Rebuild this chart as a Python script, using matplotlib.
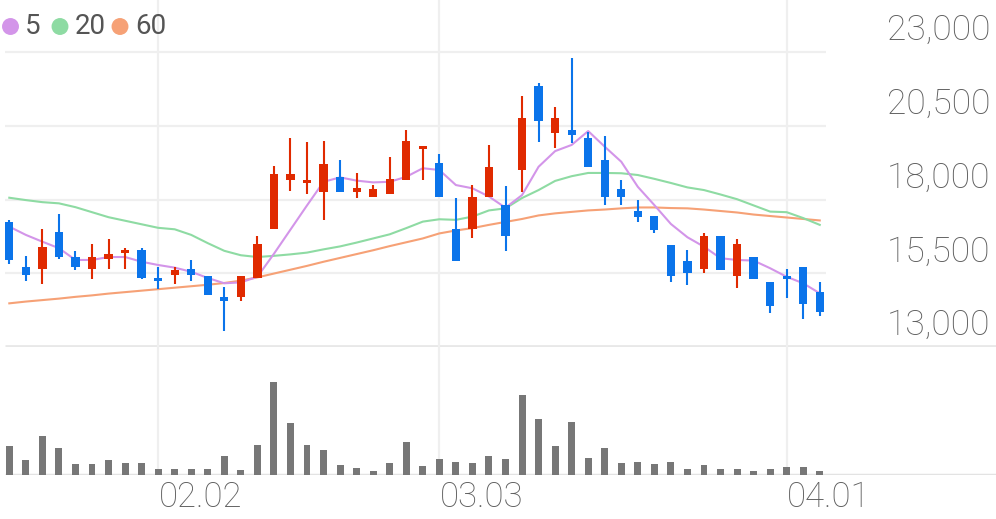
import matplotlib
matplotlib.use("Agg")
import matplotlib.pyplot as plt
from matplotlib.patches import Ellipse
import numpy as np

plt.rcParams['font.family'] = ['Roboto', 'DejaVu Sans']

# daily candles (KRW), index 0..49
opens = [17250, 15700, 15650, 16900, 16050, 15650, 16000, 16200, 16300, 15350,
         15450, 15650, 15400, 14700, 14700, 15350, 17000, 18650, 18550, 18250,
         18750, 18250, 18100, 18200, 18650, 19700, 19250, 17000, 17000, 18100,
         17800, 19000, 21850, 20250, 20350, 20100, 19350, 18350, 17600, 17450,
         16450, 15900, 15650, 16750, 15400, 16050, 15200, 15400, 15700, 14850]
closes = [15950, 15450, 16400, 16050, 15700, 16050, 16150, 16300, 15350, 15250,
          15600, 15450, 14750, 14550, 15400, 16500, 18850, 18850, 18650, 19200,
          18250, 18400, 18350, 18700, 20000, 19750, 18100, 15900, 18100, 19100,
          16750, 20750, 20650, 20750, 20200, 19100, 18100, 18100, 17400, 16950,
          15400, 15500, 16750, 15600, 16500, 15300, 14400, 15300, 14450, 14200]
highs = [17300, 16100, 17000, 17500, 16250, 16500, 16650, 16350, 16350, 15700,
         15700, 15950, 15400, 15050, 15400, 16750, 19150, 20100, 19950, 20000,
         19350, 18900, 18500, 19450, 20350, 19800, 19550, 18050, 18500, 19850,
         18450, 21500, 21950, 21150, 22800, 20300, 20150, 18650, 18000, 17450,
         16450, 16300, 16850, 16750, 16650, 16050, 15200, 15650, 15700, 15200]
lows = [15800, 15250, 15150, 16000, 15600, 15300, 15650, 15650, 15300, 14950,
        15150, 15250, 14750, 13550, 14550, 15350, 17000, 18300, 18200, 17300,
        18250, 18050, 18100, 18200, 18650, 18650, 18100, 15900, 16700, 18100,
        16250, 18250, 19950, 19750, 19900, 19100, 17800, 17800, 17250, 16850,
        15200, 15100, 15500, 15600, 15000, 15300, 14150, 14650, 13950, 14050]

# volume in thousands of shares
volumes = [293, 150, 393, 267, 113, 110, 147, 120, 120, 57,
           60, 57, 60, 187, 53, 297, 930, 520, 300, 253,
           103, 70, 37, 123, 333, 93, 157, 130, 120, 187,
           163, 803, 560, 287, 527, 173, 267, 123, 130, 110,
           130, 63, 100, 63, 63, 43, 63, 77, 77, 40]

# moving averages
ma5 = [17080, 16800, 16570, 16350, 15950, 15950, 16050, 16050, 15890, 15780,
       15690, 15550, 15340, 15160, 15190, 15380, 16160, 16980, 17800, 18600,
       18750, 18640, 18580, 18600, 18770, 19060, 19000, 18490, 18380, 18100,
       17720, 18150, 19110, 19640, 19850, 20320, 19790, 19280, 18430, 17810,
       17170, 16720, 16400, 16010, 15950, 15930, 15670, 15380, 15160, 14820]
ma20 = [18060, 17980, 17910, 17870, 17740, 17570, 17400, 17280, 17160, 17040,
        16990, 16800, 16520, 16260, 16110, 16050, 16090, 16140, 16200, 16310,
        16410, 16540, 16680, 16820, 17030, 17250, 17330, 17310, 17420, 17630,
        17700, 18050, 18320, 18630, 18790, 18900, 18900, 18890, 18830, 18700,
        18560, 18410, 18320, 18170, 18010, 17800, 17590, 17570, 17370, 17140]
ma60 = [14480, 14540, 14590, 14640, 14700, 14750, 14810, 14860, 14910, 14960,
        15010, 15060, 15110, 15170, 15250, 15360, 15490, 15620, 15750, 15890,
        16020, 16150, 16280, 16420, 16550, 16680, 16850, 16950, 17030, 17140,
        17240, 17340, 17460, 17530, 17580, 17630, 17660, 17700, 17730, 17730,
        17710, 17700, 17660, 17610, 17560, 17490, 17440, 17390, 17340, 17290]

price_ticks = [13000, 15500, 18000, 20500, 23000]
date_idx = [9, 26, 47]
date_labels = ['02.02', '03.03', '04.01']

UP = '#e02a00'
DOWN = '#0b74ea'
TXT = '#5e5e5e'
GRID = '#efefef'

W, H = 996, 519
fig = plt.figure(figsize=(W / 100, H / 100), dpi=100)
ax = fig.add_axes([0, (H - 347) / H, 1, 347 / H])
axv = fig.add_axes([0, (H - 475) / H, 1, 128 / H])

step = 16.54
x0px = 9.3
xlim = (-x0px / step, (W - x0px) / step)
n = len(closes)
x = np.arange(n)

ppx = 2500 / 73.75
for a in (ax, axv):
    a.set_xlim(*xlim)
    a.axis('off')
ax.set_ylim(13000, 13000 + 347 * ppx)
axv.set_ylim(0, 1280)

# grid
gx0 = (5 - x0px) / step
gx1 = (826 - x0px) / step
for v in price_ticks[1:]:
    ax.hlines(v, gx0, gx1, color=GRID, lw=1.6, zorder=0)
ax.hlines(13000 + 1 * ppx, gx0, xlim[1], color='#e8e8e8', lw=2, zorder=0)
axv.hlines(0, gx0, xlim[1], color='#e3e3e3', lw=2.5, zorder=0)
for i in date_idx:
    ax.axvline(i, color=GRID, lw=1.6, zorder=0)
    axv.axvline(i, color=GRID, lw=1.6, zorder=0)

# moving averages
ax.plot(x, ma60, color='#f6a176', lw=1.5, zorder=2)
ax.plot(x, ma20, color='#8edba3', lw=1.5, zorder=2)
ax.plot(x, ma5, color='#d395e9', lw=1.5, zorder=2)

# candles
min_body = 3 * ppx
for i in range(n):
    o, c, h, l = opens[i], closes[i], highs[i], lows[i]
    col = UP if c >= o else DOWN
    ax.vlines(i, l, h, color=col, lw=1.5, zorder=3)
    lo = min(o, c)
    hgt = max(abs(c - o), min_body)
    ax.bar(i, hgt, bottom=lo, width=0.5, color=col, zorder=4)

axv.bar(x, volumes, width=0.42, color='#777777', zorder=2)

# y labels (above their grid lines)
for v in price_ticks:
    ax.annotate(f'{v:,}', xy=(1, v), xycoords=('axes fraction', 'data'),
                xytext=(-4, 15.5), textcoords='offset points',
                ha='right', va='center', fontsize=25.5, color=TXT,
                fontweight='light')

# date labels
for i, lab in zip(date_idx, date_labels):
    axv.annotate(lab, xy=(i, 0), xycoords=('data', 'axes fraction'),
                 xytext=(0.5, -16), textcoords='offset points',
                 ha='left', va='center', fontsize=25, color=TXT,
                 fontweight='light')

# legend
leg = [('5', '#d395e9', 10.5, 25), ('20', '#8edba3', 60, 75), ('60', '#f6a176', 120, 135)]
cy = 26.5
for lab, col, cx, tx in leg:
    fig.patches.append(Ellipse((cx / W, 1 - cy / H), 15.5 / W, 15.5 / H,
                               transform=fig.transFigure, color=col))
    fig.text(tx / W, 1 - cy / H, lab, ha='left', va='center',
             fontsize=20, color='#555555')

fig.savefig('out.png', dpi=100)
